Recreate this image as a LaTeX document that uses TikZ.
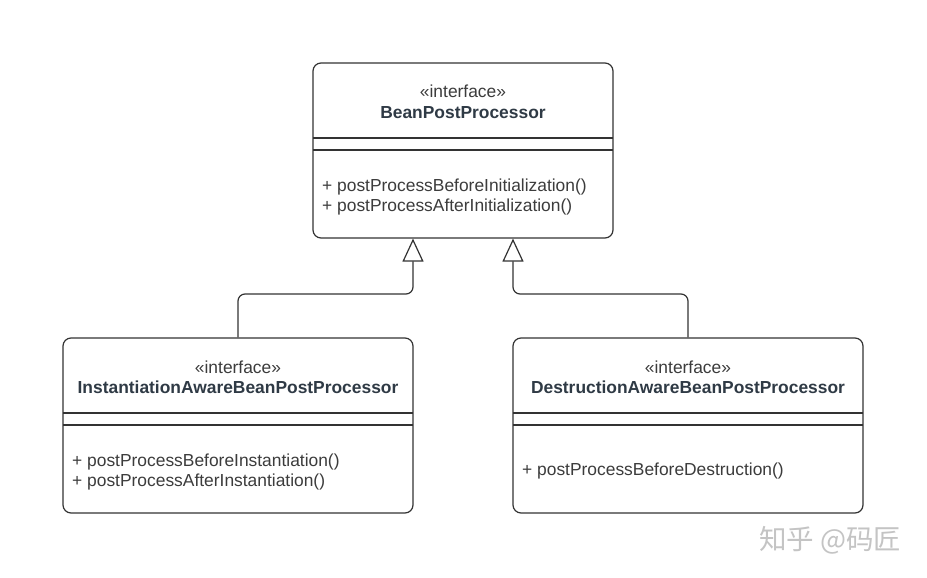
\documentclass[tikz,border=0pt]{standalone}
\usepackage{fontspec}
\setmainfont{Liberation Sans}
\newfontfamily\cjk{Noto Sans CJK SC}
\usetikzlibrary{arrows.meta,calc}
\definecolor{linec}{HTML}{333333}
\definecolor{txtc}{HTML}{3C3C3C}
\definecolor{boldc}{HTML}{2F3A45}
\definecolor{wmc}{HTML}{C4C4C4}
\tikzset{
  umlbox/.style={draw=linec, line width=1.2pt, rounded corners=8pt, minimum width=#1, minimum height=175pt, inner sep=0pt, fill=white},
  divider/.style={draw=linec, line width=1.2pt},
  stereo/.style={text=txtc, font=\fontsize{17.4}{20}\selectfont, inner sep=0pt, anchor=base},
  cname/.style={text=boldc, font=\fontsize{17.4}{20}\selectfont\bfseries, inner sep=0pt, anchor=base},
  meth/.style={text=txtc, font=\fontsize{17.4}{20}\selectfont, inner sep=0pt, anchor=base west},
  inherit/.style={draw=linec, line width=1.2pt, rounded corners=7pt, -{Triangle[open, width=21pt, length=23pt, line width=1.2pt]}},
}
\begin{document}
\begin{tikzpicture}[x=1pt,y=-1pt]
\useasboundingbox[fill=white] (0,0) rectangle (927,578);
% top box
\node[umlbox=300pt] (top) at (463,150.5) {};
\draw[divider] (313,138) -- (613,138);
\draw[divider] (313,150) -- (613,150);
\node[stereo] (t1) at (463,98) {«interface»};
\node[cname] (t2) at (463,118) {BeanPostProcessor};
\node[meth] (t3) at (322,191) {+ postProcessBeforeInitialization()};
\node[meth] (t4) at (322,211) {+ postProcessAfterInitialization()};
% left box
\node[umlbox=350pt] (il) at (238,425.5) {};
\draw[divider] (63,413) -- (413,413);
\draw[divider] (63,425) -- (413,425);
\node[stereo] (l1) at (238,373) {«interface»};
\node[cname] (l2) at (238,393) {InstantiationAwareBeanPostProcessor};
\node[meth] (l3) at (72,466) {+ postProcessBeforeInstantiation()};
\node[meth] (l4) at (72,486) {+ postProcessAfterInstantiation()};
% right box
\node[umlbox=350pt] (dr) at (688,425.5) {};
\draw[divider] (513,413) -- (863,413);
\draw[divider] (513,425) -- (863,425);
\node[stereo] (r1) at (688,373) {«interface»};
\node[cname] (r2) at (688,393) {DestructionAwareBeanPostProcessor};
\node[meth] (r3) at (522,475) {+ postProcessBeforeDestruction()};
% connectors
\coordinate (tl) at ($(top.south)+(-50,0)$);
\coordinate (tr) at ($(top.south)+(50,0)$);
\coordinate (ml) at (413,294);
\coordinate (mr) at (513,294);
\draw[inherit] (il.north) |- (ml) -- (tl);
\draw[inherit] (dr.north) |- (mr) -- (tr);
% watermark
\node[text=wmc, font=\cjk\fontsize{27.5}{30}\selectfont, inner sep=0pt, anchor=base west] (wm) at (759,549) {知乎 @码匠};
\end{tikzpicture}
\end{document}
